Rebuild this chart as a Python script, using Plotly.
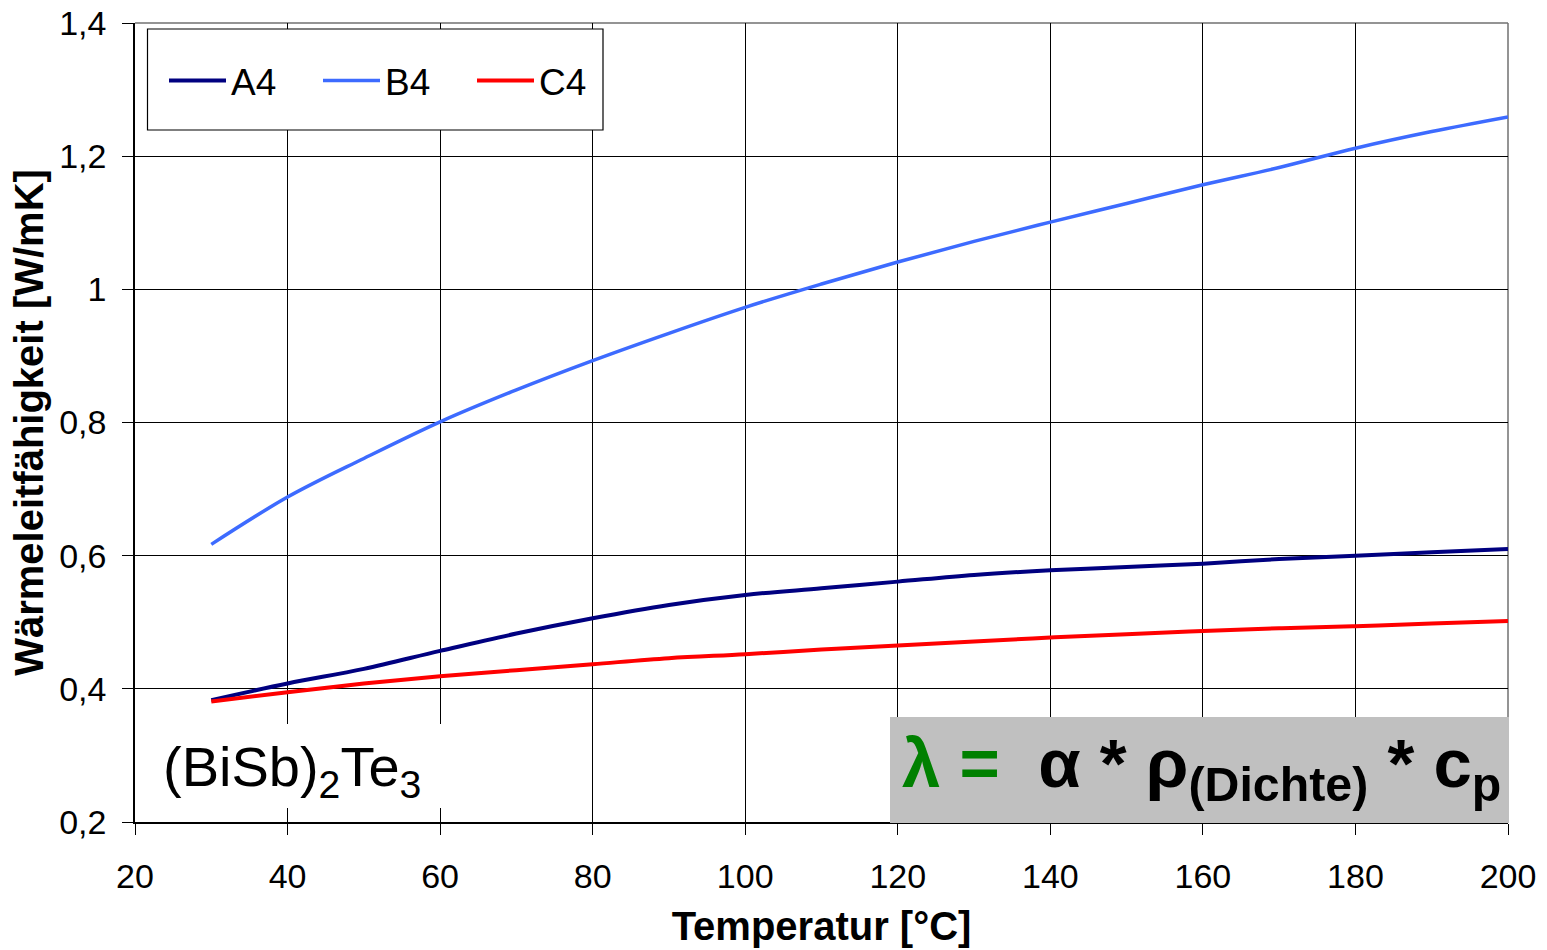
import plotly.graph_objects as go

temperature = [30, 40, 50, 60, 70, 80, 90, 100, 110, 120, 130, 140, 150, 160, 170, 180, 190, 200]
a4 = [0.383, 0.408, 0.430, 0.457, 0.483, 0.506, 0.526, 0.541, 0.551, 0.561, 0.571, 0.578, 0.583, 0.588, 0.595, 0.600, 0.605, 0.610]
b4 = [0.617, 0.688, 0.746, 0.801, 0.849, 0.893, 0.934, 0.973, 1.008, 1.041, 1.072, 1.101, 1.129, 1.157, 1.183, 1.212, 1.237, 1.259]
c4 = [0.381, 0.395, 0.408, 0.419, 0.428, 0.437, 0.446, 0.452, 0.459, 0.465, 0.471, 0.477, 0.482, 0.487, 0.491, 0.494, 0.498, 0.502]

x_ticks = [20, 40, 60, 80, 100, 120, 140, 160, 180, 200]
y_ticks = [0.2, 0.4, 0.6, 0.8, 1.0, 1.2, 1.4]
y_tick_labels = ["0,2", "0,4", "0,6", "0,8", "1", "1,2", "1,4"]

FONT = "Liberation Sans, Arial, sans-serif"

fig = go.Figure()
fig.add_trace(go.Scatter(x=temperature, y=a4, name="A4", mode="lines",
                         line=dict(color="#000080", width=4, shape="spline")))
fig.add_trace(go.Scatter(x=temperature, y=b4, name="B4", mode="lines",
                         line=dict(color="#3D6BFF", width=3.5, shape="spline")))
fig.add_trace(go.Scatter(x=temperature, y=c4, name="C4", mode="lines",
                         line=dict(color="#FF0000", width=4, shape="spline")))

W, H = 1547, 950
L, R, T, B = 135, 39, 23, 128
pw, ph = W - L - R, H - T - B

def px(xp):
    return (xp - L) / pw

def py(yp):
    return (H - B - yp) / ph

shapes = [
    # top and right plot border
    dict(type="line", xref="paper", yref="paper", x0=0, x1=1, y0=1, y1=1,
         line=dict(color="#707070", width=1.5), layer="below"),
    dict(type="line", xref="paper", yref="paper", x0=1, x1=1, y0=0, y1=1,
         line=dict(color="#707070", width=1.5), layer="below"),
    # legend frame
    dict(type="rect", xref="paper", yref="paper", x0=px(147.5), x1=px(603), y0=py(130), y1=py(29),
         fillcolor="white", line=dict(color="black", width=1.2), layer="above"),
    # white label box
    dict(type="rect", xref="paper", yref="paper", x0=px(150), x1=px(446), y0=py(808), y1=py(724),
         fillcolor="white", line=dict(width=0), layer="above"),
    # grey formula box
    dict(type="rect", xref="paper", yref="paper", x0=px(890), x1=px(1509), y0=py(823), y1=py(717),
         fillcolor="#C0C0C0", line=dict(width=0), layer="above"),
]

annotations = [
    dict(xref="paper", yref="paper", x=px(161), y=py(770), xanchor="left", yanchor="middle",
         text="(BiSb)<sub>2</sub>Te<sub>3</sub>", showarrow=False,
         font=dict(family=FONT, size=56, color="black")),
    dict(xref="paper", yref="paper", x=px(1201), y=py(768), xanchor="center", yanchor="middle",
         text="<b><span style='color:#008000'>λ =</span>  α * ρ<sub>(Dichte)</sub> * c<sub>p</sub></b>",
         showarrow=False, font=dict(family=FONT, size=69, color="black")),
]

fig.update_layout(
    width=W, height=H,
    margin=dict(l=L, r=R, t=T, b=B, pad=0, autoexpand=False),
    paper_bgcolor="white", plot_bgcolor="white",
    font=dict(family=FONT, color="black"),
    showlegend=True,
    legend=dict(orientation="h", x=px(164), y=py(81), xanchor="left", yanchor="middle",
                bgcolor="rgba(0,0,0,0)", borderwidth=0,
                font=dict(family=FONT, size=37, color="black"),
                entrywidth=82, entrywidthmode="pixels", itemwidth=57),
    shapes=shapes,
    annotations=annotations,
    xaxis=dict(range=[20, 200], tickvals=x_ticks, ticktext=[str(v) for v in x_ticks],
               showgrid=True, gridcolor="black", gridwidth=1,
               showline=True, linecolor="black", linewidth=1.5,
               ticks="outside", ticklen=11, tickcolor="black", tickwidth=1.2,
               tickfont=dict(family=FONT, size=34, color="black"),
               ticklabelstandoff=12, ticklabeloverflow="allow",
               zeroline=False, automargin=False,
               title=dict(text="<b>Temperatur [°C]</b>", font=dict(family=FONT, size=40, color="black"),
                          standoff=18)),
    yaxis=dict(range=[0.2, 1.4], tickvals=y_ticks, ticktext=y_tick_labels,
               showgrid=True, gridcolor="black", gridwidth=1,
               showline=True, linecolor="black", linewidth=1.5,
               ticks="outside", ticklen=11, tickcolor="black", tickwidth=1.2,
               tickfont=dict(family=FONT, size=34, color="black"),
               ticklabelstandoff=9, ticklabeloverflow="allow",
               zeroline=False, automargin=False,
               title=dict(text="<b>Wärmeleitfähigkeit [W/mK]</b>", font=dict(family=FONT, size=40, color="black"),
                          standoff=3)),
)

fig.write_html("out.html", config={"displayModeBar": False},
               post_script="document.body.style.margin='0px';")
